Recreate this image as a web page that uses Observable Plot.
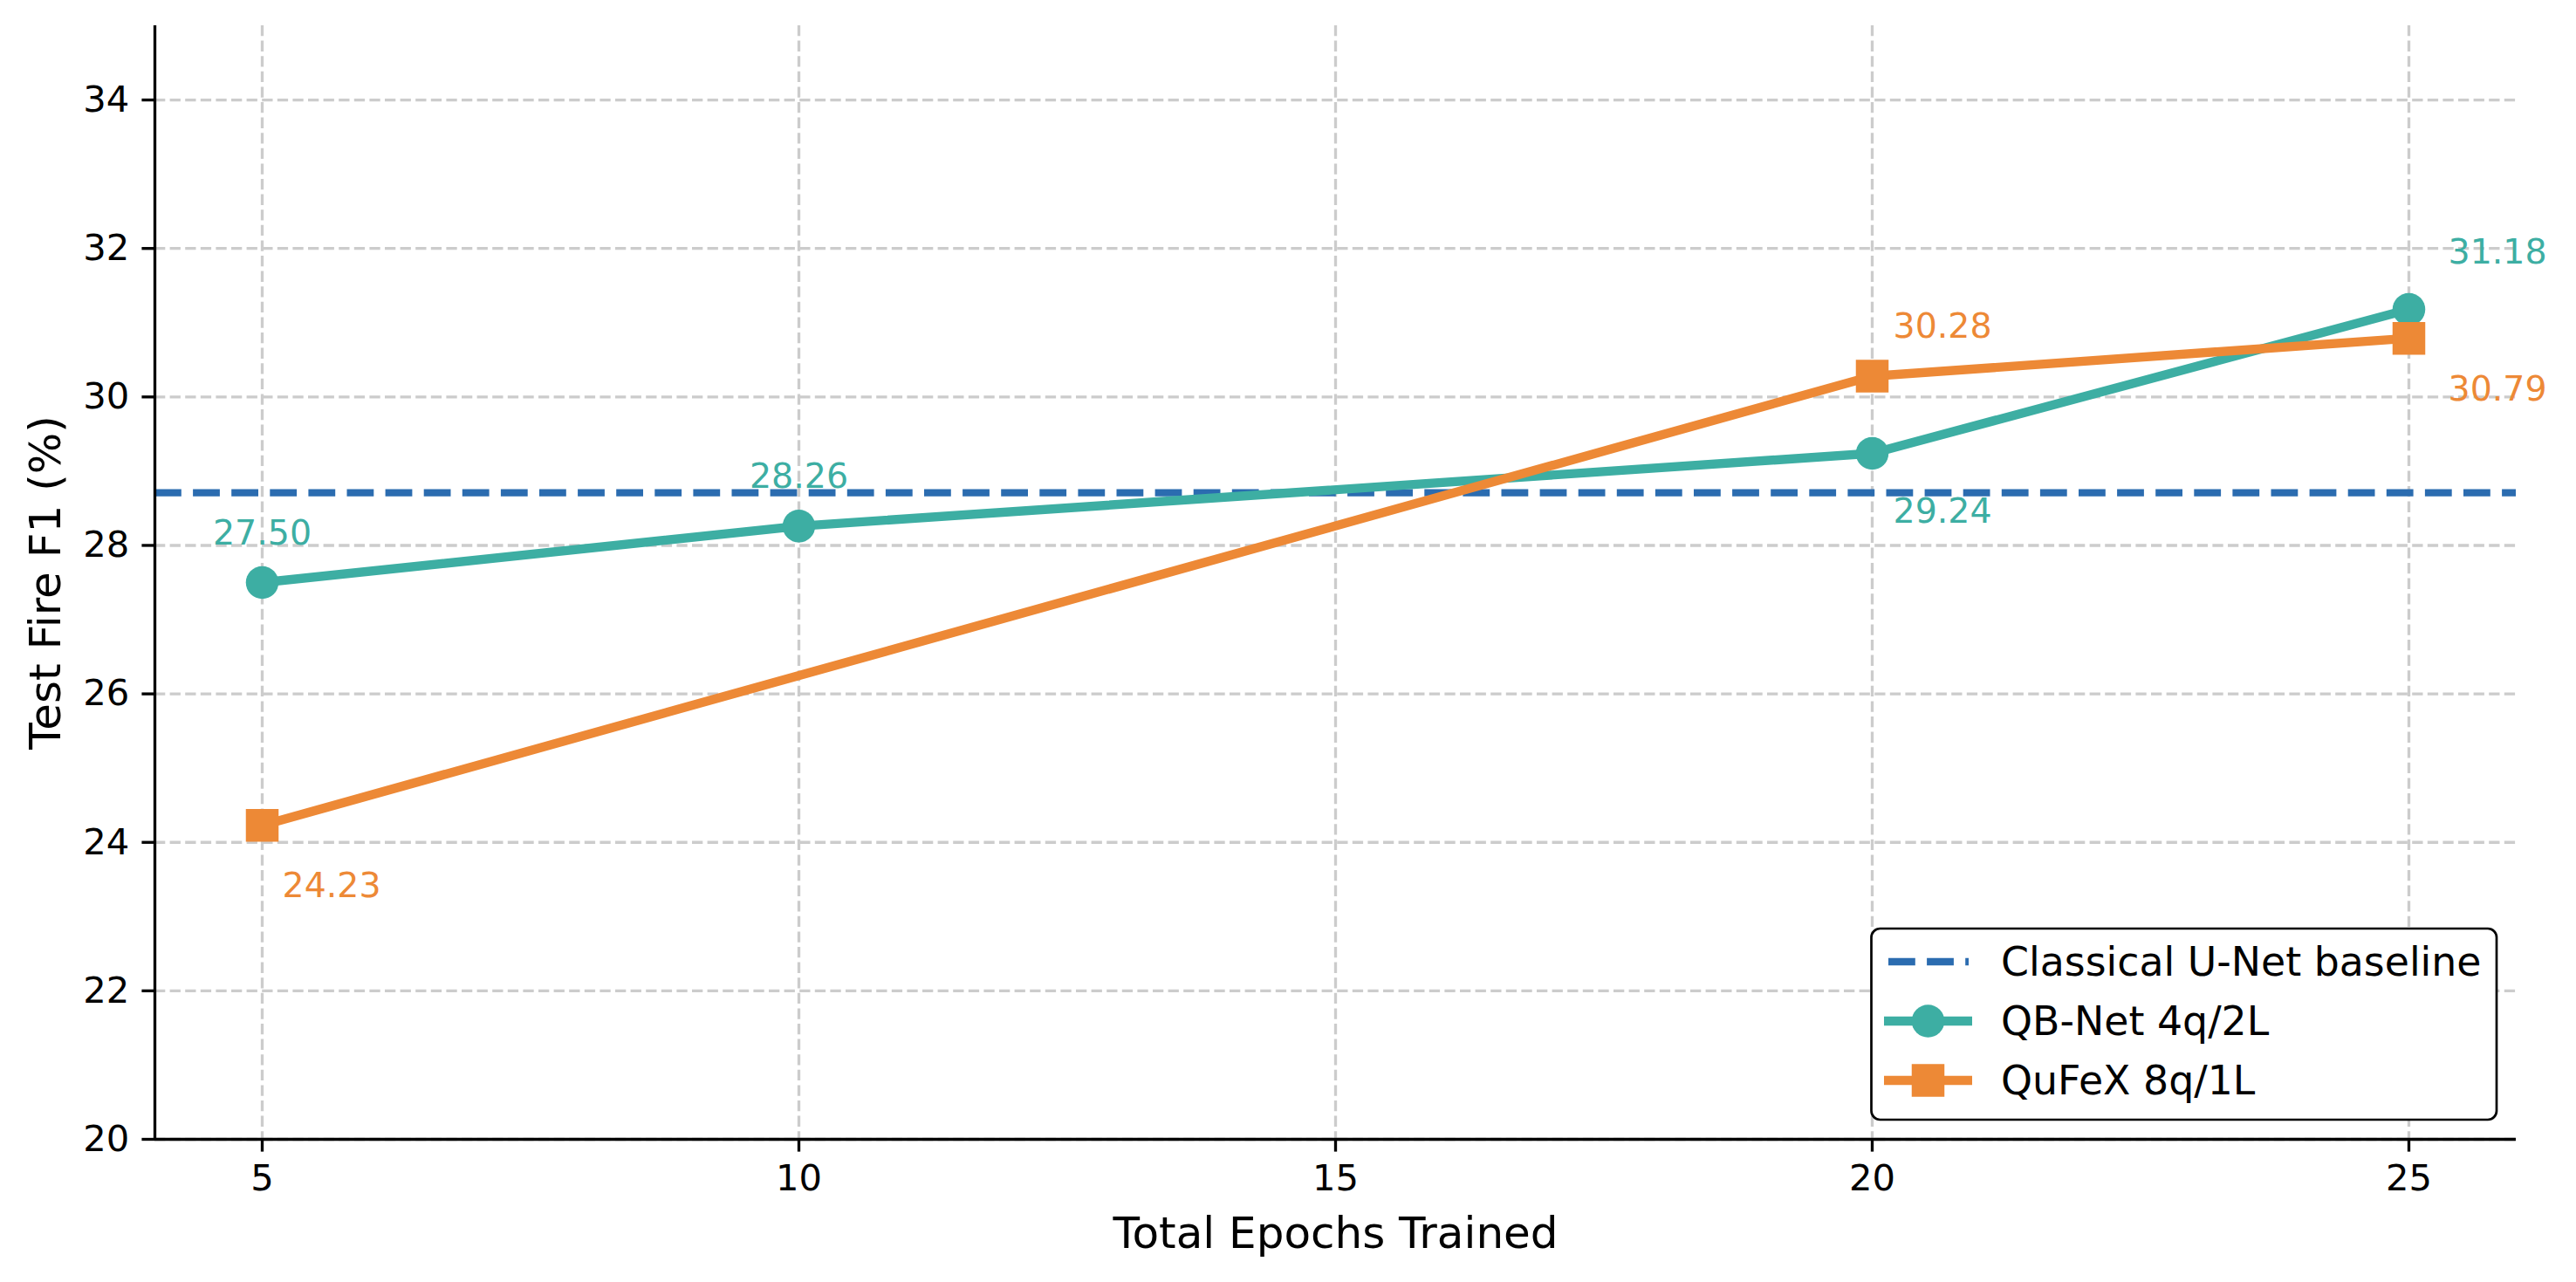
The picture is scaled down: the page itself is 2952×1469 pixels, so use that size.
<!DOCTYPE html>
<html>
<head>
<meta charset="utf-8">
<script src="https://cdn.jsdelivr.net/npm/d3@7"></script>
<script src="https://cdn.jsdelivr.net/npm/@observablehq/plot@0.6"></script>
<style>
  html, body { margin: 0; padding: 0; background: #ffffff; }
  #chart svg { display: block; }
</style>
</head>
<body>
<div id="chart"></div>
<script>
// ---------- data ----------
const xDomain = [4, 26];
const yDomain = [20, 35];
const xTicks = [5, 10, 15, 20, 25];
const yTicks = [20, 22, 24, 26, 28, 30, 32, 34];

const qbEpochs = [5, 10, 20, 25];
const qbF1 = [27.50, 28.26, 29.24, 31.18];

const qufexEpochs = [5, 20, 25];
const qufexF1 = [24.23, 30.28, 30.79];

const baselineF1 = 28.71;

const seriesNames = ["Classical U-Net baseline", "QB-Net 4q/2L", "QuFeX 8q/1L"];
const xLabel = "Total Epochs Trained";
const yLabel = "Test Fire F1 (%)";

// ---------- styles ----------
const BLUE = "#2b6cb0", TEAL = "#3daea3", ORANGE = "#ed8936";
const FONT = "DejaVu Sans";
const GRID = "#cccccc";

// label placement (pixel offsets from each point)
const qbLabelPlace = [
  {dx: 0, dy: -44, anchor: "middle"},
  {dx: 0, dy: -44, anchor: "middle"},
  {dx: 24, dy: 80, anchor: "start"},
  {dx: 45, dy: -52, anchor: "start"}
];
const qufexLabelPlace = [
  {dx: 23, dy: 82, anchor: "start"},
  {dx: 24, dy: -44, anchor: "start"},
  {dx: 45, dy: 71, anchor: "start"}
];

const qb = qbEpochs.map((e, i) => ({epoch: e, f1: qbF1[i]}));
const qufex = qufexEpochs.map((e, i) => ({epoch: e, f1: qufexF1[i]}));

const W = 2952, H = 1469;
const LINE_W = 10.4, MARKER_D = 37.5;

function labelMarks(data, places, color) {
  return data.map((d, i) => Plot.text([d], {
    x: "epoch", y: "f1",
    text: (p) => p.f1.toFixed(2),
    dx: places[i].dx, dy: places[i].dy,
    textAnchor: places[i].anchor,
    lineAnchor: "bottom",
    fill: color,
    fontSize: 39.5,
    fontFamily: FONT
  }));
}

function legendMark(index, scales, values, dims) {
  const right = dims.width - dims.marginRight - 22;
  const bottom = dims.height - dims.marginBottom - 22;
  const bw = 716.5, bh = 219;
  const left = right - bw, top = bottom - bh;
  const g = d3.create("svg:g").attr("text-anchor", "start");
  g.append("rect")
    .attr("x", left).attr("y", top).attr("width", bw).attr("height", bh)
    .attr("rx", 10).attr("ry", 10)
    .attr("fill", "white").attr("stroke", "black").attr("stroke-width", 2.7);
  const rows = [top + 38, top + 106, top + 174];
  // baseline handle
  g.append("line")
    .attr("x1", left + 19.5).attr("x2", left + 111.5)
    .attr("y1", rows[0]).attr("y2", rows[0])
    .attr("stroke", BLUE).attr("stroke-width", 8.33)
    .attr("stroke-dasharray", "30.8,13.3");
  // QB handle
  g.append("line")
    .attr("x1", left + 14.5).attr("x2", left + 115.5)
    .attr("y1", rows[1]).attr("y2", rows[1])
    .attr("stroke", TEAL).attr("stroke-width", LINE_W);
  g.append("circle")
    .attr("cx", left + 65).attr("cy", rows[1]).attr("r", MARKER_D / 2)
    .attr("fill", TEAL);
  // QuFeX handle
  g.append("line")
    .attr("x1", left + 14.5).attr("x2", left + 115.5)
    .attr("y1", rows[2]).attr("y2", rows[2])
    .attr("stroke", ORANGE).attr("stroke-width", LINE_W);
  g.append("rect")
    .attr("x", left + 65 - MARKER_D / 2).attr("y", rows[2] - MARKER_D / 2)
    .attr("width", MARKER_D).attr("height", MARKER_D)
    .attr("fill", ORANGE);
  seriesNames.forEach((name, i) => {
    g.append("text")
      .attr("x", left + 148.5).attr("y", rows[i] + 16)
      .attr("text-anchor", "start")
      .attr("font-family", FONT).attr("font-size", 45.8)
      .attr("fill", "black")
      .text(name);
  });
  return g.node();
}

const chart = Plot.plot({
  width: W,
  height: H,
  marginLeft: 177,
  marginRight: 69,
  marginTop: 29,
  marginBottom: 164,
  style: {fontFamily: FONT, background: "white", color: "black"},
  x: {domain: xDomain, ticks: xTicks},
  y: {domain: yDomain, ticks: yTicks},
  marks: [
    Plot.gridX(xTicks, {stroke: GRID, strokeOpacity: 1, strokeWidth: 3.33, strokeDasharray: "12.3,5.3"}),
    Plot.gridY(yTicks, {stroke: GRID, strokeOpacity: 1, strokeWidth: 3.33, strokeDasharray: "12.3,5.3"}),
    Plot.ruleY([baselineF1], {stroke: BLUE, strokeWidth: 8.33, strokeDasharray: "30.8,13.3"}),
    Plot.line(qb, {x: "epoch", y: "f1", stroke: TEAL, strokeWidth: LINE_W, strokeLinejoin: "round", strokeLinecap: "butt"}),
    Plot.dot(qb, {x: "epoch", y: "f1", r: MARKER_D / 2, fill: TEAL, symbol: "circle"}),
    Plot.line(qufex, {x: "epoch", y: "f1", stroke: ORANGE, strokeWidth: LINE_W, strokeLinejoin: "round", strokeLinecap: "butt"}),
    Plot.dot(qufex, {x: "epoch", y: "f1", r: MARKER_D / Math.sqrt(Math.PI), fill: ORANGE, symbol: "square"}),
    ...labelMarks(qb, qbLabelPlace, TEAL),
    ...labelMarks(qufex, qufexLabelPlace, ORANGE),
    Plot.ruleX([xDomain[0]], {stroke: "black", strokeWidth: 3.33}),
    Plot.ruleY([yDomain[0]], {stroke: "black", strokeWidth: 3.33}),
    Plot.axisX(xTicks, {tickSize: 14.6, tickPadding: 14.6, fontSize: 41.7, strokeWidth: 3.33, label: null, fontFamily: FONT, tickFormat: d3.format("d")}),
    Plot.axisY(yTicks, {tickSize: 14.6, tickPadding: 14.6, fontSize: 41.7, strokeWidth: 3.33, label: null, fontFamily: FONT, tickFormat: d3.format("d")}),
    Plot.text([xLabel], {frameAnchor: "bottom", dy: 124, lineAnchor: "bottom", fontSize: 50, fontFamily: FONT, fill: "black"}),
    Plot.text([yLabel], {frameAnchor: "left", dx: -109, rotate: -90, lineAnchor: "bottom", textAnchor: "middle", fontSize: 50, fontFamily: FONT, fill: "black"}),
    legendMark
  ]
});

document.getElementById("chart").appendChild(chart);
</script>
</body>
</html>
